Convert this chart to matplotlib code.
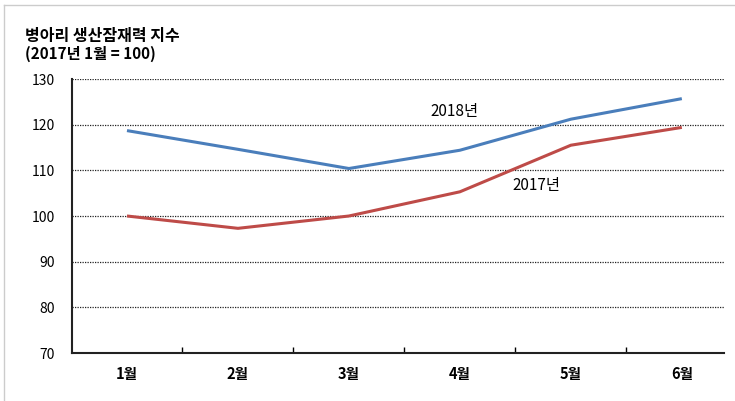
import matplotlib
matplotlib.use("Agg")
import matplotlib.pyplot as plt
from matplotlib.lines import Line2D

plt.rcParams["font.family"] = ["Noto Sans CJK KR", "DejaVu Sans"]

months = ["1월", "2월", "3월", "4월", "5월", "6월"]
idx_2018 = [118.7, 114.6, 110.4, 114.4, 121.2, 125.7]
idx_2017 = [100.0, 97.3, 100.0, 105.3, 115.5, 119.4]
yticks = [70, 80, 90, 100, 110, 120, 130]

fig = plt.figure(figsize=(7.35, 4.01), dpi=100)
W, H = 735, 401
ax = fig.add_axes([71.5 / W, 1 - 353 / H, (724 - 71.5) / W, (353 - 79) / H])

x = list(range(len(months)))
ax.plot(x, idx_2018, color="#4a7ebb", lw=2.2, solid_capstyle="butt", zorder=3)
ax.plot(x, idx_2017, color="#be4b48", lw=2.2, solid_capstyle="butt", zorder=3)

ax.set_xlim(-0.5, 5.38)
ax.set_ylim(70, 130)
ax.set_yticks(yticks)
ax.set_yticklabels([str(v) for v in yticks], fontsize=10)
for v in yticks[1:]:
    ax.axhline(v, color="#222222", lw=0.9, ls=(0, (1, 1)), zorder=1)

ax.set_xticks(x)
ax.set_xticklabels(months, fontsize=10.5, fontweight="bold")
ax.set_xticks([i + 0.5 for i in range(5)], minor=True)
ax.tick_params(axis="x", which="major", length=0, pad=9)
ax.tick_params(axis="x", which="minor", length=4, direction="in", width=1)
ax.tick_params(axis="y", length=0, pad=12)

for s in ("top", "right"):
    ax.spines[s].set_visible(False)
for s in ("left", "bottom"):
    ax.spines[s].set_linewidth(1.5)
    ax.spines[s].set_color("#222222")

ax.text(2.95, 122.8, "2018년", fontsize=11, ha="center", va="center")
ax.text(3.69, 106.6, "2017년", fontsize=11, ha="center", va="center")

fig.text(25 / W, 1 - 36 / H, "병아리 생산잠재력 지수", fontsize=11.5, fontweight="bold", va="center")
fig.text(25 / W, 1 - 54 / H, "(2017년 1월 = 100)", fontsize=11, fontweight="bold", va="center")

# light frame of the original image
fig.add_artist(Line2D([4 / W, 4 / W], [0, 1 - 5 / H], transform=fig.transFigure, color="#cccccc", lw=1))
fig.add_artist(Line2D([4 / W, 1], [1 - 5 / H, 1 - 5 / H], transform=fig.transFigure, color="#cccccc", lw=1))

fig.savefig("out.png", dpi=100, facecolor="white")
